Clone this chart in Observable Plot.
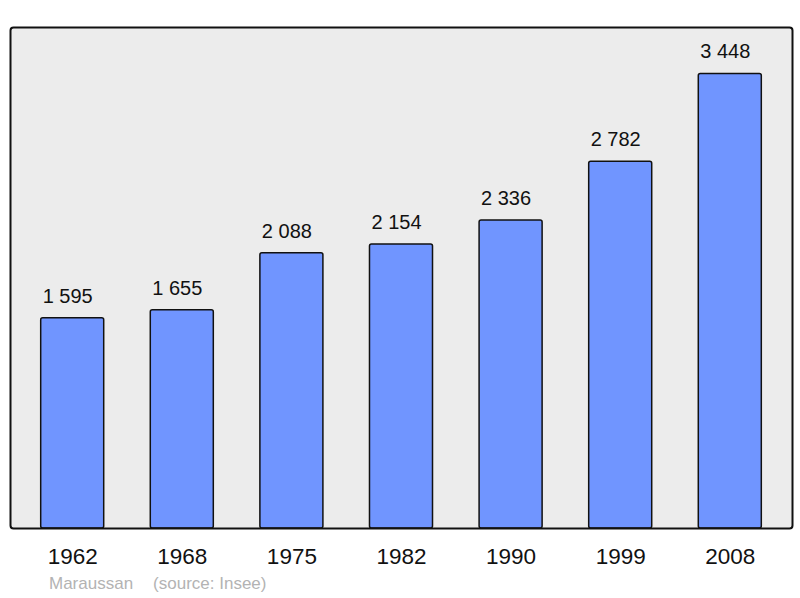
<!DOCTYPE html>
<html>
<head>
<meta charset="utf-8">
<script src="https://cdn.jsdelivr.net/npm/d3@7"></script>
<script src="https://cdn.jsdelivr.net/npm/@observablehq/plot@0.6"></script>
<style>
  body { margin: 0; background: #fff; font-family: "Liberation Sans", Arial, sans-serif; }
  #chart svg { display: block; }
  .cap { color: #b3b3b3; font-size: 17px; line-height: 20px; padding-left: 49px; margin-top: 4px; white-space: pre; }
</style>
</head>
<body>
<div id="chart"></div>
<div class="cap"><span>Maraussan</span><span style="margin-left:20px">(source: Insee)</span></div>
<script>
const years = ["1962", "1968", "1975", "1982", "1990", "1999", "2008"];
const population = [1595, 1655, 2088, 2154, 2336, 2782, 3448];
const commune = "Maraussan";

const data = years.map((y, i) => ({year: y, pop: population[i]}));
const fmt = d3.formatLocale({thousands: "\u00a0", grouping: [3], decimal: ","}).format(",d");

const chart = Plot.plot({
  width: 800,
  height: 570,
  marginLeft: 10,
  marginRight: 8,
  marginTop: 27,
  marginBottom: 42,
  style: {fontFamily: "'Liberation Sans', Arial, sans-serif", background: "white"},
  x: {domain: years, paddingInner: 0.425, paddingOuter: 0.28, round: false, label: null},
  y: {domain: [0, 3800], axis: null},
  marks: [
    Plot.frame({fill: "#ececec", stroke: "none"}),
    Plot.barY(data, {x: "year", y: "pop", fill: "#7095ff", stroke: "#111", strokeWidth: 1.5, rx: 2}),
    Plot.text(data, {x: "year", y: "pop", text: d => fmt(d.pop), dy: -22, dx: -5, fontSize: 20, fill: "#111"}),
    Plot.frame({stroke: "#111", strokeWidth: 2, rx: 3}),
    Plot.axisX({tickSize: 0, tickPadding: 20, fontSize: 22.5, label: null, color: "#111"})
  ]
});
document.getElementById("chart").append(chart);
</script>
</body>
</html>
